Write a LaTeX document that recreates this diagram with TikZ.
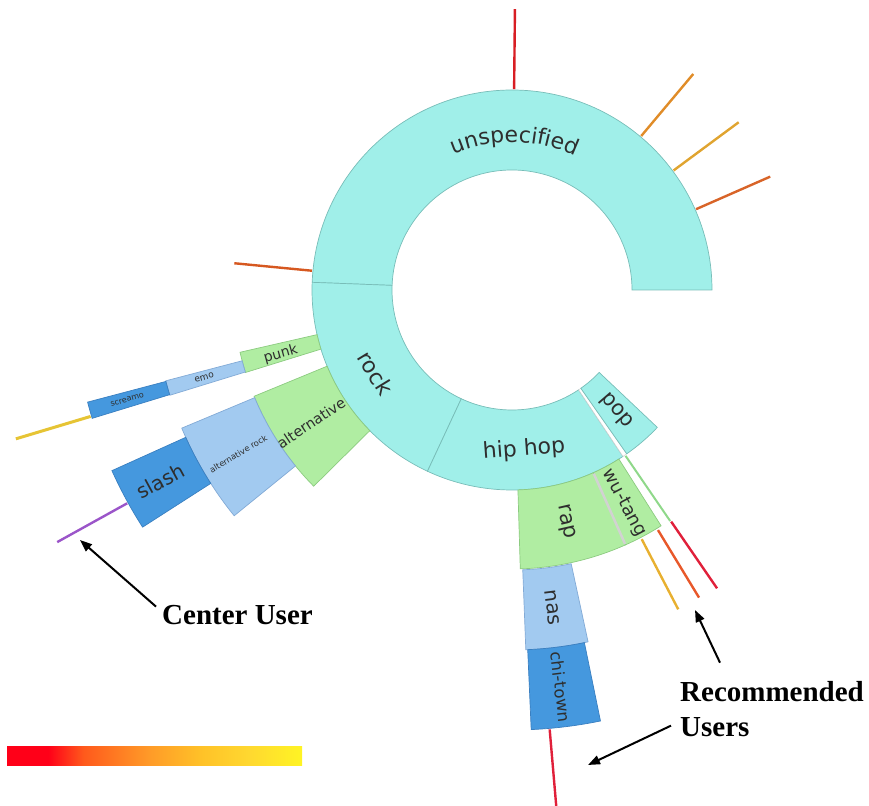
\documentclass[tikz,border=0pt]{standalone}
\usepackage{fontspec}
\newfontfamily\lblfont{DejaVu Sans}
\newfontfamily\annfont{Liberation Serif}
\usetikzlibrary{arrows.meta,decorations.text,calc}
\definecolor{cyanF}{HTML}{A0EFE9}
\definecolor{cyanD}{HTML}{78BDB8}
\definecolor{greenF}{HTML}{B0EDA2}
\definecolor{greenD}{HTML}{8CCB80}
\definecolor{lblueF}{HTML}{A2CAF0}
\definecolor{lblueD}{HTML}{82AAD6}
\definecolor{dblueF}{HTML}{4598DE}
\definecolor{dblueD}{HTML}{3A7FC0}
\definecolor{lblc}{HTML}{2E2E2E}
\definecolor{uRed}{HTML}{D81E24}
\definecolor{uOrange}{HTML}{E08C28}
\definecolor{uAmber}{HTML}{E0A430}
\definecolor{uRust}{HTML}{D86428}
\definecolor{uBrick}{HTML}{D65820}
\definecolor{uYellow}{HTML}{E6C434}
\definecolor{uPurple}{HTML}{9B55C9}
\definecolor{uGold}{HTML}{E8B030}
\definecolor{uVermil}{HTML}{E8582A}
\definecolor{uCrimson}{HTML}{E0203A}
\definecolor{gLine}{HTML}{8FD88A}
\definecolor{heatR}{HTML}{FF0018}
\definecolor{heatO1}{HTML}{FF5A1C}
\definecolor{heatO2}{HTML}{FF9A28}
\definecolor{heatA}{HTML}{FFC228}
\definecolor{heatY1}{HTML}{FFD830}
\definecolor{heatY}{HTML}{FFF424}
\pgfdeclarehorizontalshading{heatbar}{100bp}{color(0bp)=(heatR); color(25bp)=(heatR); color(32bp)=(heatR); color(38bp)=(heatO1); color(49bp)=(heatO2); color(58bp)=(heatA); color(66bp)=(heatY1); color(75bp)=(heatY); color(100bp)=(heatY)}
\newcommand{\mysector}[5]{\path[#5] (#1:#3pt) -- (#1:#4pt) arc[start angle=#1,end angle=#2,radius=#4pt] -- (#2:#3pt) arc[start angle=#2,end angle=#1,radius=#3pt] -- cycle;}
\newcommand{\unspecfont}{\lblfont\fontsize{22}{22}\selectfont}
\newcommand{\lf}[1]{\lblfont\fontsize{#1}{#1}\selectfont}
\begin{document}
\begin{tikzpicture}[x=1pt,y=1pt,
  cyanS/.style={fill=cyanF,draw=cyanD,line width=0.7pt},
  greenS/.style={fill=greenF,draw=greenD,line width=0.7pt},
  lblueS/.style={fill=lblueF,draw=lblueD,line width=0.7pt},
  dblueS/.style={fill=dblueF,draw=dblueD,line width=0.7pt},
  lbl/.style={text=lblc,inner sep=0pt},
  userline/.style={line width=2.4pt},
  arr/.style={line width=2pt,-{Triangle[length=12pt,width=9pt]}},
  ann/.style={font=\annfont\bfseries\fontsize{29}{34}\selectfont,inner sep=1pt,align=left}]
\useasboundingbox (0,0) rectangle (869,805);
\begin{scope}[shift={(512,515)}]
  % ring 1
  \mysector{0}{177.8}{120}{200}{cyanS}
  \mysector{177.8}{245}{120}{200}{cyanS}
  \mysector{245}{303.7}{120}{200}{cyanS}
  \mysector{303.7}{305.0}{120}{200}{fill=white,draw=gray!35,line width=0.5pt}
  \mysector{305.0}{316.6}{120}{200}{cyanS}
  % ring 2
  \mysector{192.9}{197.2}{200}{279}{greenS}
  \mysector{202.4}{224.7}{200}{279}{greenS}
  \mysector{271.7}{294}{200}{279}{greenS}
  \mysector{294}{302.3}{200}{279}{greenS}
  \draw[line width=2.5pt,color=gray!35] (294:201pt) -- (294:278pt);
  \draw[line width=2pt,color=gLine] (304.4:201pt) -- (304.4:280pt);
  % ring 3
  \mysector{194.7}{197.1}{279}{358}{lblueS}
  \mysector{202.7}{219.1}{279}{358}{lblueS}
  \mysector{272.2}{282.2}{280}{360}{lblueS}
  % ring 4
  \mysector{194.8}{197.0}{358}{439}{dblueS}
  \mysector{204.3}{212.7}{358}{439}{dblueS}
  \mysector{272.5}{281.6}{360}{440}{dblueS}
  % user lines
  \draw[userline,uRed] (89.4:201pt) -- (89.4:281pt);
  \draw[userline,uOrange] (50:201pt) -- (50:282pt);
  \draw[userline,uAmber] (36.5:201pt) -- (36.5:282pt);
  \draw[userline,uRust] (23.7:201pt) -- (23.7:282pt);
  \draw[userline,uBrick] (174.5:201pt) -- (174.5:279pt);
  \draw[userline,uYellow,line width=3pt] (196.7:440pt) -- (196.7:518pt);
  \draw[userline,uPurple] (209:440pt) -- (209:520pt);
  \draw[userline,uGold] (297.5:281pt) -- (297.5:360pt);
  \draw[userline,uVermil] (301.3:281pt) -- (301.3:360pt);
  \draw[userline,uCrimson] (304.5:281pt) -- (304.5:362pt);
  \draw[userline,uCrimson] (274.9:441pt) -- (274.9:530pt);
  % labels
  \path[decorate,decoration={text along path,text={|\unspecfont|unspecified},text align=center,text color=lblc}]
    (121:148pt) arc[start angle=121,end angle=57,radius=148pt];
  \node[lbl,font=\lf{22},rotate=-58.6] (rockL) at (211.4:160pt) {rock};
  \node[lbl,font=\lf{22},rotate=4.3] (hiphopL) at (274.3:160pt) {hip hop};
  \node[lbl,font=\lf{21},rotate=-49.2] (popL) at (310.8:160pt) {pop};
  \node[lbl,font=\lf{14.5},rotate=33.5] (altL) at (213.5:241pt) {alternative};
  \node[lbl,font=\lf{14},rotate=15.5] (punkL) at (195.5:240pt) {punk};
  \node[lbl,font=\lf{21},rotate=-77] (rapL) at (283:238pt) {rap};
  \node[lbl,font=\lf{18},rotate=-62] (wutangL) at (297.7:241pt) {wu-tang};
  \node[lbl,font=\lf{8.3},rotate=30.9] (altrockL) at (210.9:319pt) {alternative rock};
  \node[lbl,font=\lf{9},rotate=15.9] (emoL) at (195.9:320pt) {emo};
  \node[lbl,font=\lf{20},rotate=-82.8] (nasL) at (277.2:320pt) {nas};
  \node[lbl,font=\lf{20},rotate=28.5] (slashL) at (208.5:400pt) {slash};
  \node[lbl,font=\lf{8},rotate=15.9] (screamoL) at (195.9:400pt) {screamo};
  \node[lbl,font=\lf{16.5},rotate=-83] (chitownL) at (277:400pt) {chi-town};
\end{scope}
% colour bar
\shade[shading=heatbar] (7,39) rectangle (302,58);
% annotations
\node[ann,anchor=base west] (cu) at (161,180) {Center User};
\coordinate (cuTip) at (80,265);
\draw[arr] ([xshift=-5pt,yshift=-2pt]cu.north west) -- (cuTip);
\node[ann,anchor=base west] (rec1) at (679,103) {Recommended};
\node[ann,anchor=base west] (rec2) at (679,68) {Users};
\coordinate (recTip1) at (695,195);
\coordinate (recTip2) at (588,40);
\draw[arr] ([xshift=41pt,yshift=18pt]rec1.north west) -- (recTip1);
\draw[arr] ([xshift=-8pt,yshift=2pt]rec2.west) -- (recTip2);
\end{tikzpicture}
\end{document}
